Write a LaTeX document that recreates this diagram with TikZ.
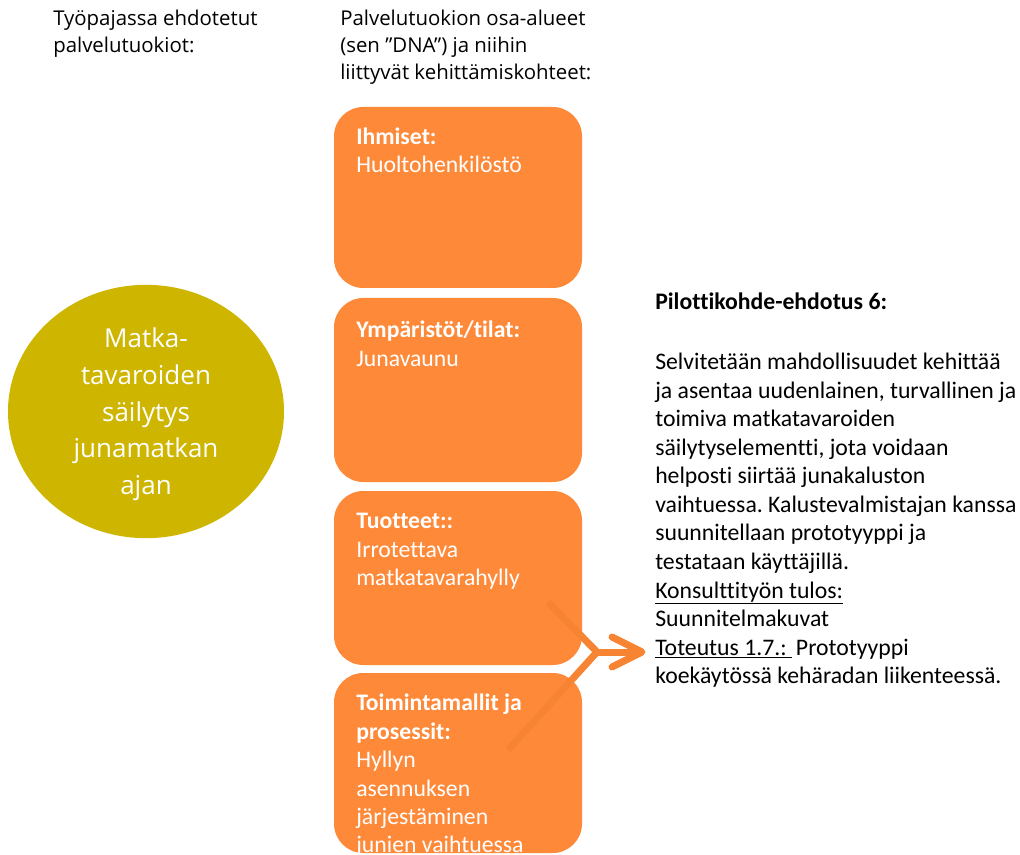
\documentclass[tikz,border=0pt]{standalone}
\usepackage{fontspec}
\setmainfont{Carlito}[Ligatures=NoCommon]
\newfontfamily\headfont{Open Sans}
\usetikzlibrary{shapes.geometric}
\definecolor{boxorange}{RGB}{253,137,57}
\definecolor{lineorange}{RGB}{247,132,50}
\definecolor{circleolive}{RGB}{205,181,0}
\frenchspacing
\begin{document}
\begin{tikzpicture}[x=0.75pt,y=-0.75pt,
  areabox/.style={fill=boxorange, draw=none, rounded corners=22pt,
    minimum width=186pt, inner sep=0pt},
  boxtext/.style={anchor=north west, inner sep=0pt, text=white, align=left,
    font=\fontsize{17.8}{21.3}\selectfont},
  headtext/.style={anchor=north west, inner sep=0pt, align=left,
    font=\headfont\fontsize{15.3}{20.2}\selectfont},
  bodytext/.style={anchor=north west, inner sep=0pt, align=left,
    font=\fontsize{17.8}{21.4}\selectfont},
  brace/.style={draw=lineorange, line width=5.25pt},
]
\useasboundingbox (0,0) rectangle (1020,855);
\clip (0,0) rectangle (1020,855);

% column headings
\node[headtext] (h1) at (53,10) {Työpajassa ehdotetut\\palvelutuokiot:};
\node[headtext] (h2) at (340,10) {Palvelutuokion osa-alueet\\(sen ”DNA”) ja niihin\\liittyvät kehittämiskohteet:};

% service theme
\node[ellipse, fill=circleolive, minimum width=207pt, minimum height=190pt,
  inner sep=0pt] (theme) at (146,411.5) {};
\node[text=white, align=center, inner sep=0pt,
  font=\headfont\fontsize{19.5}{27.5}\selectfont]
  (themetxt) at (146,414.5) {Matka-\\tavaroiden\\säilytys\\junamatkan\\ajan};

% service areas
\node[areabox, minimum height=135.75pt] (people) at (458,197.5) {};
\node[areabox, minimum height=138pt] (spaces) at (458,390) {};
\node[areabox, minimum height=130.5pt] (products) at (458,578) {};
\node[areabox, minimum height=135pt] (processes) at (458,763) {};

\node[boxtext] (peopletxt) at (356,127.5) {\textbf{Ihmiset:}\\Huoltohenkilöstö};
\node[boxtext] (spacestxt) at (356,321) {\textbf{Ympäristöt/tilat:}\\Junavaunu};
\node[boxtext] (productstxt) at (356,513) {\textbf{Tuotteet::}\\Irrotettava\\matkatavarahylly};
\node[boxtext] (processestxt) at (356,694) {\textbf{Toimintamallit ja}\\\textbf{prosessit:}\\Hyllyn\\asennuksen\\järjestäminen\\junien vaihtuessa};

% pilot proposal
\node[bodytext] (pilothead) at (655,293) {\textbf{Pilottikohde-ehdotus 6:}};
\node[bodytext] (pilot) at (655,353) {Selvitetään mahdollisuudet kehittää\\
ja asentaa uudenlainen, turvallinen ja\\
toimiva matkatavaroiden\\
säilytyselementti, jota voidaan\\
helposti siirtää junakaluston\\
vaihtuessa. Kalustevalmistajan kanssa\\
suunnitellaan prototyyppi ja\\
testataan käyttäjillä.\\
\underline{Konsulttityön tulos:}\\
Suunnitelmakuvat\\
\underline{Toteutus 1.7.:\ }\,Prototyyppi\\
koekäytössä kehäradan liikenteessä.};

% brace joining the two lower areas into the proposal
\coordinate (bu) at (548,602);
\coordinate (bj) at (597,652);
\coordinate (bl) at (508,750);
\coordinate (tip) at (642,652);
\coordinate (arm1) at (612,637);
\coordinate (arm2) at (612,667);
\draw[brace, line join=miter] (bu) -- (bj) -- (bl);
\draw[brace] (bj) -- (tip);
\draw[brace, line cap=round, line join=round] (arm1) -- (tip) -- (arm2);
\end{tikzpicture}
\end{document}
